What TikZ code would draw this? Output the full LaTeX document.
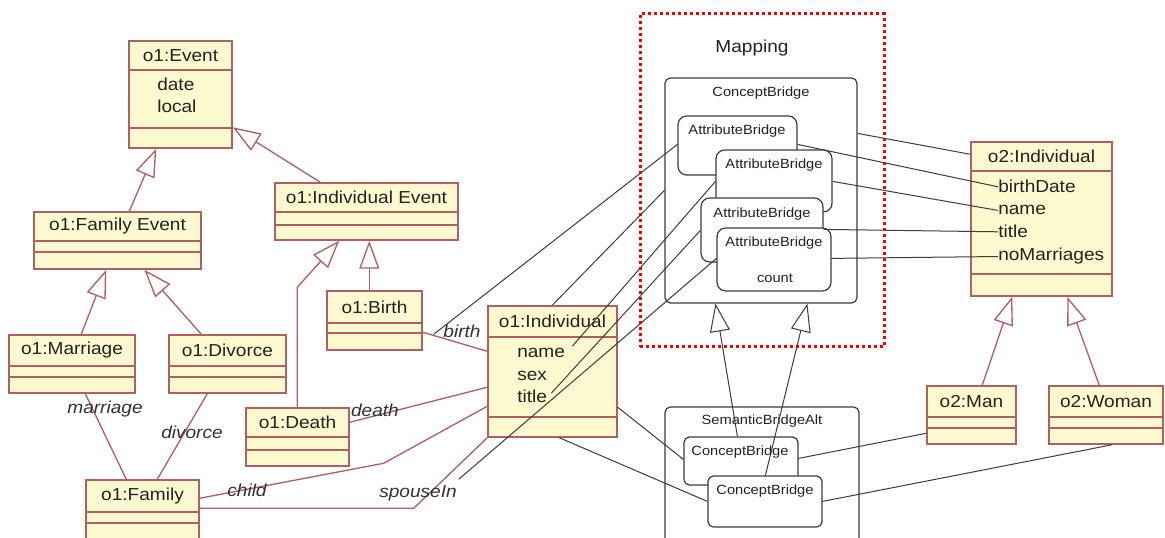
\documentclass[tikz,border=0pt]{standalone}
\usepackage{fontspec}
\setmainfont{Liberation Sans}[FakeStretch=1.1]
\usetikzlibrary{arrows.meta,calc,fit}

\definecolor{classfill}{RGB}{255,249,208}
\definecolor{classline}{RGB}{176,96,96}
\definecolor{bridgeline}{RGB}{60,60,60}
\definecolor{txt}{RGB}{34,34,34}
\definecolor{labelgray}{RGB}{50,50,50}
\definecolor{mapred}{RGB}{240,0,0}

\newcommand{\bigfont}{\fontsize{13pt}{15pt}\selectfont}
\newcommand{\smallfont}{\fontsize{10pt}{12pt}\selectfont}

% UML class box: name, x1, y1, x2, y2, first divider, second divider, title
\newcommand{\umlclass}[8]{%
  \node[classbox, fit={(#2,#3) (#4,#5)}] (#1) {};
  \draw[classedge] (#2,#6) -- (#4,#6) (#2,#7) -- (#4,#7);
  \node[classtitle] (#1-t) at ($(#2,#3)!0.5!(#4,#6)$) {#8};
}

\begin{document}
\begin{tikzpicture}[x=0.75pt,y=-0.75pt,
  classbox/.style={rectangle, draw=classline, fill=classfill, line width=1.1pt, inner sep=0pt},
  classedge/.style={draw=classline, line width=1.1pt},
  classtitle/.style={inner sep=0pt, text=txt, font=\bigfont},
  attr/.style={inner sep=0pt, text=txt, font=\bigfont, anchor=base west},
  assoc/.style={draw=classline, line width=1pt},
  gen/.style={-{Triangle[length=21pt,width=15pt,fill=white]}},
  bridgebox/.style={rectangle, draw=bridgeline, fill=white, line width=0.9pt, rounded corners=4pt, inner sep=0pt},
  attrbridge/.style={bridgebox, rounded corners=6.5pt},
  bridgetext/.style={inner sep=0pt, text=txt, font=\smallfont},
  link/.style={draw=bridgeline, line width=0.75pt},
  rolelabel/.style={inner sep=0pt, text=labelgray, font=\bigfont\itshape},
]
\useasboundingbox (0,0) rectangle (1165,538);
\clip (0,0) rectangle (1165,538);
\fill[white] (0,0) rectangle (1165,538);

% ---- ontology o1 ----
\umlclass{ev}{129}{41}{232}{148}{70}{128}{o1:Event}
\node[attr] (ev-date) at (157,91) {date};
\node[attr] (ev-local) at (157,113) {local};
\umlclass{fe}{34}{212}{201}{269}{241}{252}{o1:Family Event}
\umlclass{ie}{275}{183}{458}{240}{212}{225}{o1:Individual Event}
\umlclass{birth}{327}{291}{422}{350}{323}{333}{o1:Birth}
\umlclass{marr}{9}{335}{135}{393}{366}{377}{o1:Marriage}
\umlclass{divo}{169}{335}{286}{393}{366}{377}{o1:Divorce}
\umlclass{death}{246}{408}{349}{466}{437}{450}{o1:Death}
\umlclass{fam}{86}{480}{199}{560}{512}{523}{o1:Family}
\umlclass{ind}{488}{306}{617}{437}{337}{417}{o1:Individual}
\node[attr] (ind-name) at (517,358) {name};
\node[attr] (ind-sex) at (517,381) {sex};
\node[attr] (ind-title) at (517,403) {title};

% ---- ontology o2 ----
\umlclass{oi}{971}{142}{1112}{296}{171}{274}{o2:Individual}
\node[attr] (oi-bd) at (998,193) {birthDate};
\node[attr] (oi-name) at (998,215) {name};
\node[attr] (oi-title) at (998,238) {title};
\node[attr] (oi-nm) at (998,261) {noMarriages};
\umlclass{man}{927}{386}{1016}{444}{417}{428}{o2:Man}
\umlclass{woman}{1049}{386}{1163}{444}{417}{428}{o2:Woman}

% ---- mapping bridges ----
\node[font=\bigfont, text=txt, inner sep=0pt] (maplabel) at (752,48) {Mapping};
\node[bridgebox, fit={(665,78) (857,303)}] (cb) {};
\node[bridgetext] (cb-t) at (761,93) {ConceptBridge};
\node[attrbridge, fit={(678,116) (797,175)}] (ab1) {};
\node[bridgetext] (ab1-t) at (737,131) {AttributeBridge};
\node[attrbridge, fit={(716,150) (832,212)}] (ab2) {};
\node[bridgetext] (ab2-t) at (774,165) {AttributeBridge};
\node[attrbridge, fit={(701,198) (823,262)}] (ab3) {};
\node[bridgetext] (ab3-t) at (762,214) {AttributeBridge};
\node[attrbridge, fit={(717,228) (831,291)}] (ab4) {};
\node[bridgetext] (ab4-t) at (774,243) {AttributeBridge};
\node[bridgetext] (ab4-c) at (775,278) {count};

\node[bridgebox, fit={(665,407) (859,560)}] (sba) {};
\node[bridgetext] (sba-t) at (762,421) {SemanticBridgeAlt};
\node[bridgebox, fit={(684,437) (798,485)}] (scb1) {};
\node[bridgetext] (scb1-t) at (740,452) {ConceptBridge};
\node[bridgebox, fit={(708,476) (822,527)}] (scb2) {};
\node[bridgetext] (scb2-t) at (765,491) {ConceptBridge};

% free ends of links that meet an association
\coordinate (birthend) at ($(birth.north east)+(11,44)$);
\coordinate (spouseend) at ($(fam.north east)+(259,0)$);

% ---- generalizations in the class diagrams ----
\draw[assoc, gen] ($(fe.north west)+(96,0)$) -- ($(ev.south west)+(28,0)$);
\draw[assoc, gen] ($(ie.north west)+(46,0)$) -- ($(ev.north east)+(0,87)$);
\draw[assoc, gen] ($(marr.north west)+(73,0)$) -- ($(fe.south west)+(73,0)$);
\draw[assoc, gen] ($(divo.north west)+(33,0)$) -- ($(fe.south west)+(111,0)$);
\draw[assoc, gen] ($(birth.north west)+(43,0)$) -- ($(ie.south west)+(95,0)$);
\draw[assoc, gen] ($(death.north west)+(52,0)$) -- ++(0,-120) -- ($(ie.south west)+(65,0)$);
\draw[assoc, gen] ($(man.north west)+(56,0)$) -- ($(oi.south west)+(42,0)$);
\draw[assoc, gen] ($(woman.north west)+(51,0)$) -- ($(oi.south west)+(97,0)$);

% ---- associations ----
\draw[assoc] ($(marr.south west)+(77,0)$) -- ($(fam.north west)+(41,0)$);
\draw[assoc] ($(divo.south west)+(39,0)$) -- ($(fam.north west)+(72,0)$);
\draw[assoc] ($(birth.north east)+(0,42)$) -- ($(ind.north west)+(0,46)$);
\draw[assoc] ($(death.north east)+(0,15)$) -- ($(ind.north west)+(0,82)$);
\draw[assoc] ($(fam.north east)+(0,19)$) -- ++(184,-35) -- ($(ind.north west)+(0,101)$);
\draw[assoc] ($(fam.north east)+(0,29)$) -- ++(214,0) -- (ind.south west);

\node[rolelabel] (l-marr) at (105,409) {marriage};
\node[rolelabel] (l-div) at (192,432) {divorce};
\node[rolelabel] (l-birth) at (462,331) {birth};
\node[rolelabel] (l-death) at (375,410) {death};
\node[rolelabel] (l-child) at (247,490) {child};
\node[rolelabel] (l-spouse) at (418,493) {spouseIn};

% ---- bridge specialisation ----
\draw[link, gen] ($(scb1.north west)+(54,0)$) -- ($(cb.south west)+(51,0)$);
\draw[link, gen] ($(scb2.north west)+(58,0)$) -- ($(cb.south west)+(143,0)$);

% ---- links from bridges to the ontologies ----
\draw[link] ($(cb.north east)+(0,56)$) -- ($(oi.north west)+(0,13)$);
\draw[link] ($(ab1.north east)+(0,29)$) -- (oi-bd.west);
\draw[link] ($(ab2.north east)+(0,32)$) -- (oi-name.west);
\draw[link] ($(ab3.north east)+(0,32)$) -- (oi-title.west);
\draw[link] ($(ab4.north east)+(0,31)$) -- (oi-nm.west);
\draw[link] ($(ab1.north west)+(0,29)$) -- (birthend);
\draw[link] ($(cb.north west)+(0,113)$) -- ($(ind.north west)+(65,0)$);
\draw[link] ($(ab2.north west)+(0,32)$) -- ($(ind.north west)+(85,41)$);
\draw[link] ($(ab3.north west)+(0,33)$) -- ($(ind.north west)+(64,88)$);
\draw[link] ($(ab4.north west)+(0,31)$) -- (spouseend);
\draw[link] ($(ind.north east)+(0,102)$) -- ($(scb1.north west)+(0,23)$);
\draw[link] ($(ind.south west)+(72,0)$) -- ($(scb2.north west)+(0,26)$);
\draw[link] ($(scb1.north east)+(0,22)$) -- ($(man.north west)+(0,48)$);
\draw[link] ($(scb2.north east)+(0,26)$) -- ($(woman.south west)+(64,0)$);

% ---- mapping frame ----
\node[draw=mapred, line width=2.25pt, dash pattern=on 2.25pt off 2.25pt, inner sep=0pt, fit={(640,14) (884,347)}] (mapping) {};
\end{tikzpicture}
\end{document}
